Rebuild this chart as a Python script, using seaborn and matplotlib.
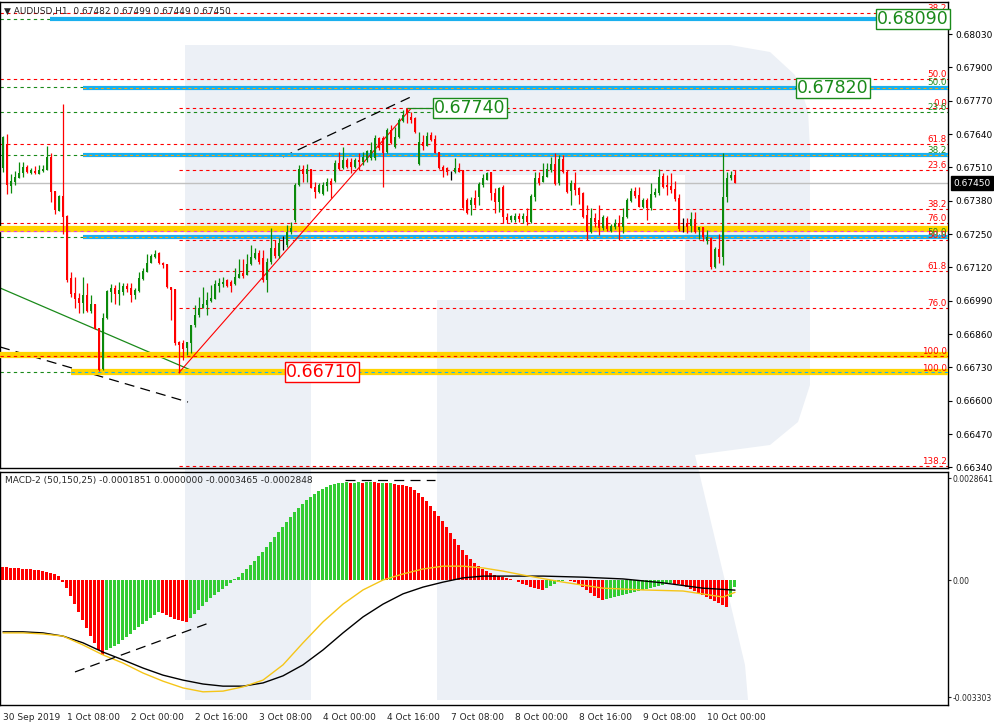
import matplotlib
matplotlib.use("Agg")
import matplotlib.pyplot as plt
import matplotlib.patches as mpatches
import seaborn as sns
import numpy as np

# ---- candles (prices in points, 1 point = 0.00001) ----
opens = [67508, 67601, 67438, 67453, 67469, 67488, 67512, 67488, 67496, 67484, 67496, 67500, 67551, 67418, 67340, 67399,
         67321, 67079, 67020, 67001, 66981, 67013, 66950, 66977, 66884, 66724, 66923, 67024, 67040, 67016, 67024, 67048,
         67040, 67013, 67028, 67075, 67102, 67137, 67161, 67176, 67137, 67133, 67044, 67036, 66829, 66825, 66806, 66825,
         66896, 66935, 66962, 66974, 66989, 66997, 67048, 67055, 67071, 67063, 67055, 67079, 67098, 67091, 67133, 67157,
         67176, 67157, 67071, 67141, 67196, 67165, 67223, 67208, 67258, 67305, 67442, 67504, 67484, 67504, 67434, 67414,
         67406, 67438, 67457, 67457, 67527, 67508, 67539, 67531, 67512, 67539, 67531, 67539, 67547, 67547, 67625, 67625,
         67570, 67656, 67590, 67629, 67691, 67738, 67707, 67703, 67523, 67609, 67594, 67637, 67621, 67570, 67512, 67508,
         67496, 67492, 67508, 67500, 67383, 67364, 67391, 67395, 67442, 67461, 67492, 67410, 67375, 67434, 67317, 67305,
         67305, 67321, 67309, 67321, 67297, 67395, 67469, 67453, 67473, 67500, 67523, 67449, 67543, 67492, 67418, 67449,
         67430, 67410, 67325, 67258, 67313, 67305, 67274, 67313, 67262, 67278, 67293, 67278, 67317, 67379, 67418, 67403,
         67356, 67383, 67352, 67403, 67410, 67477, 67442, 67438, 67426, 67391, 67286, 67293, 67282, 67309, 67266, 67278,
         67223, 67235, 67122, 67192, 67161, 67395, 67469, 67482]
highs = [67633, 67640, 67484, 67496, 67531, 67531, 67520, 67508, 67516, 67520, 67520, 67594, 67566, 67418, 67403, 67757,
         67325, 67102, 67083, 67020, 67083, 67059, 67013, 66977, 66884, 66942, 67032, 67055, 67052, 67063, 67059, 67059,
         67059, 67040, 67102, 67118, 67172, 67172, 67188, 67180, 67141, 67133, 67044, 67036, 66833, 66837, 66829, 66896,
         66974, 67005, 67044, 67024, 67052, 67071, 67079, 67083, 67075, 67071, 67118, 67153, 67153, 67172, 67208, 67196,
         67188, 67188, 67157, 67274, 67227, 67235, 67243, 67286, 67297, 67449, 67520, 67520, 67523, 67504, 67453, 67449,
         67453, 67469, 67469, 67539, 67570, 67590, 67547, 67547, 67547, 67566, 67570, 67578, 67609, 67637, 67629, 67633,
         67664, 67676, 67668, 67703, 67734, 67740, 67726, 67707, 67648, 67637, 67648, 67648, 67637, 67570, 67520, 67512,
         67496, 67547, 67527, 67500, 67391, 67395, 67422, 67453, 67484, 67492, 67492, 67430, 67434, 67442, 67332, 67325,
         67332, 67332, 67332, 67352, 67406, 67492, 67492, 67527, 67527, 67551, 67566, 67558, 67558, 67500, 67461, 67492,
         67434, 67414, 67364, 67352, 67332, 67364, 67325, 67321, 67289, 67309, 67325, 67352, 67391, 67430, 67434, 67434,
         67391, 67391, 67449, 67430, 67504, 67488, 67481, 67488, 67457, 67406, 67313, 67313, 67336, 67336, 67278, 67278,
         67266, 67239, 67200, 67250, 67566, 67492, 67496, 67499]
lows = [67492, 67406, 67410, 67442, 67469, 67473, 67488, 67484, 67484, 67484, 67492, 67500, 67375, 67328, 67340, 67250,
        67063, 67005, 66962, 66942, 66942, 66946, 66942, 66880, 66716, 66720, 66919, 66985, 66977, 66974, 67013, 67024,
        66985, 66997, 67024, 67071, 67102, 67137, 67157, 67133, 67118, 67040, 66915, 66818, 66710, 66759, 66778, 66786,
        66888, 66927, 66962, 66935, 66985, 66997, 67024, 67044, 67044, 67024, 67052, 67079, 67079, 67091, 67130, 67153,
        67133, 67063, 67024, 67133, 67157, 67157, 67188, 67200, 67250, 67297, 67438, 67453, 67453, 67430, 67391, 67410,
        67403, 67418, 67391, 67453, 67500, 67504, 67508, 67488, 67508, 67500, 67520, 67531, 67539, 67539, 67578, 67434,
        67566, 67601, 67586, 67625, 67687, 67683, 67683, 67644, 67520, 67578, 67594, 67613, 67566, 67504, 67473, 67481,
        67461, 67488, 67492, 67344, 67328, 67325, 67352, 67364, 67434, 67461, 67383, 67332, 67336, 67293, 67293, 67297,
        67297, 67297, 67293, 67286, 67293, 67379, 67442, 67453, 67473, 67492, 67442, 67442, 67488, 67410, 67364, 67403,
        67367, 67313, 67227, 67254, 67278, 67247, 67266, 67262, 67258, 67270, 67227, 67254, 67313, 67375, 67391, 67356,
        67352, 67305, 67344, 67395, 67403, 67430, 67403, 67410, 67379, 67262, 67258, 67254, 67258, 67254, 67231, 67223,
        67211, 67114, 67118, 67137, 67130, 67375, 67461, 67449]
closes = [67629, 67442, 67457, 67473, 67488, 67512, 67492, 67500, 67488, 67500, 67504, 67551, 67414, 67344, 67399, 67317,
          67071, 67016, 66997, 66981, 67013, 66950, 66977, 66880, 66720, 66923, 67028, 67040, 67016, 67032, 67048, 67036,
          67013, 67032, 67079, 67106, 67137, 67165, 67172, 67137, 67130, 67044, 67032, 66825, 66818, 66802, 66829, 66896,
          66935, 66962, 66977, 66993, 67001, 67055, 67059, 67063, 67048, 67048, 67083, 67094, 67087, 67133, 67161, 67176,
          67141, 67071, 67141, 67196, 67165, 67215, 67223, 67258, 67274, 67442, 67504, 67484, 67504, 67430, 67414, 67442,
          67442, 67453, 67442, 67527, 67504, 67539, 67512, 67512, 67539, 67531, 67551, 67574, 67578, 67625, 67586, 67566,
          67656, 67605, 67629, 67695, 67715, 67722, 67695, 67648, 67609, 67594, 67633, 67617, 67566, 67508, 67500, 67492,
          67496, 67508, 67492, 67352, 67332, 67383, 67364, 67445, 67469, 67488, 67410, 67375, 67430, 67317, 67305, 67321,
          67321, 67309, 67321, 67297, 67399, 67469, 67449, 67477, 67504, 67523, 67445, 67543, 67492, 67414, 67449, 67422,
          67403, 67317, 67258, 67313, 67297, 67274, 67317, 67270, 67282, 67293, 67278, 67317, 67383, 67418, 67399, 67356,
          67383, 67352, 67406, 67414, 67473, 67434, 67434, 67422, 67387, 67270, 67286, 67278, 67309, 67258, 67278, 67239,
          67239, 67122, 67192, 67161, 67395, 67469, 67481, 67450]

# ---- MACD-2 (values in units of 1e-4) ----
macd_hist = [3.7, 3.6, 3.5, 3.4, 3.3, 3.2, 3.1, 3.0, 2.9, 2.7, 2.5, 2.3, 2.0, 1.6, 1.0,
             -0.6, -2.3, -4.5, -6.8, -9.0, -11.3, -13.5, -15.8, -17.7, -19.7, -21.1,
             -19.7, -19.2, -18.6, -18.0, -16.9, -16.1, -15.2, -14.1, -13.2, -12.4, -11.5, -10.7, -9.9, -9.0,
             -9.3, -9.9, -10.4, -11.0, -11.3, -11.5, -11.8,
             -10.7, -9.6, -8.5, -7.3, -6.2, -5.1, -4.2, -3.4, -2.5, -1.7, -0.8, 0.3,
             0.8, 2.0, 3.1, 4.2, 5.4, 6.8, 7.9, 9.3, 10.7, 12.1, 13.5, 14.9, 16.3, 17.7, 19.2, 20.3, 21.4, 22.5,
             23.4, 24.2, 25.1, 25.6, 26.2, 26.8, 27.0,
             27.2, 27.4, 27.5, 27.3, 27.4, 27.6, 27.4, 27.5, 27.7, 27.5, 27.3, 27.4, 27.2, 27.3, 27.1, 26.9, 26.7, 26.5,
             26.2, 25.4, 24.5, 23.4, 22.3, 20.8, 19.4, 18.0, 16.6, 14.9, 13.2, 11.5, 9.9, 8.5, 7.0, 5.9, 4.8, 3.9,
             3.1, 2.5, 2.0, 1.4, 1.1, 0.8, 0.6, 0.3, 0.0,
             -0.6, -1.1, -1.4, -2.0, -2.3, -2.5, -2.8,
             -2.3, -1.7, -1.1, -0.6, -0.3, 0.0,
             -0.3, -0.6, -1.1, -2.0, -2.8, -3.7, -4.5, -5.1, -5.6,
             -5.4, -5.1, -4.8, -4.5, -4.2, -3.9, -3.7, -3.4, -3.1, -2.8, -2.5, -2.3,
             -2.0, -1.7, -1.4, -1.1, -0.8, -1.0, -1.1, -1.4,
             -2.0, -2.5, -3.1, -3.7, -4.2, -4.8, -5.4, -5.9, -6.5, -7.0, -7.6,
             -4.8, -1.85]
main_idx = [0, 5, 10, 15, 20, 25, 30, 35, 40, 45, 50, 55, 60, 65, 70, 75, 80, 85, 90, 95, 100, 105, 110, 115,
            120, 125, 135, 145, 155, 165, 175, 183]
main_line = [-14.6, -14.6, -14.9, -15.8, -17.7, -20.3, -22.5, -24.8, -26.8, -28.2, -29.3, -29.9, -29.9, -29.0,
             -27.0, -23.9, -19.7, -14.9, -10.4, -6.8, -3.9, -2.0, -0.6, 0.6, 1.1, 1.1, 1.1, 0.8, 0.3, -0.8, -2.3, -2.85]
signal_idx = [0, 5, 10, 15, 20, 25, 30, 35, 40, 45, 50, 55, 60, 65, 70, 75, 80, 85, 90, 95, 100, 105, 110, 115,
              120, 125, 130, 140, 150, 160, 170, 180, 183]
signal_line = [-14.9, -14.9, -15.2, -15.8, -18.3, -21.1, -23.4, -26.2, -28.5, -30.4, -31.5, -31.3, -30.1, -28.2,
               -23.9, -17.7, -11.8, -6.8, -2.8, 0.0, 1.7, 3.1, 3.9, 3.9, 3.4, 2.5, 1.4, -0.6, -2.3, -2.8, -3.1,
               -4.8, -3.47]

# ---- axis labels ----
time_tick_bars = [0, 16, 32, 48, 64, 80, 96, 112, 128, 144, 160, 176]
time_labels = ["30 Sep 2019", "1 Oct 08:00", "2 Oct 00:00", "2 Oct 16:00", "3 Oct 08:00", "4 Oct 00:00",
               "4 Oct 16:00", "7 Oct 08:00", "8 Oct 00:00", "8 Oct 16:00", "9 Oct 08:00", "10 Oct 00:00"]
price_ticks = [0.66340, 0.66470, 0.66600, 0.66730, 0.66860, 0.66990, 0.67120, 0.67250, 0.67380, 0.67510,
               0.67640, 0.67770, 0.67900, 0.68030]
macd_ticks = [0.0028641, 0.0, -0.003303]
macd_tick_labels = ["0.0028641", "0.00", "-0.003303"]

# ---- levels drawn on the price chart ----
# fib set starting at left edge (red)
fib_a_prices = [0.68112, 0.67855, 0.67601, 0.67293, 0.66775]
fib_a_labels = ["38.2", "50.0", "61.8", "76.0", "100.0"]
# fib set from the 0.66710 low to the 0.67740 high (red)
fib_b_prices = [0.67740, 0.67500, 0.67348, 0.67227, 0.67106, 0.66962, 0.66710, 0.66346]
fib_b_labels = ["0.0", "23.6", "38.2", "50.0", "61.8", "76.0", "100.0", "138.2"]
# green set
fib_g_prices = [0.68089, 0.67824, 0.67726, 0.67558, 0.67239, 0.66712]
fib_g_labels = ["", "50.0", "23.6", "38.2", "50.0", ""]
support_cyan = [0.67820, 0.67558, 0.67239]
support_yellow = [0.67270, 0.66778]
target_prices = [0.68090, 0.67820, 0.67740, 0.66710]
last_price = 0.67450

W, H = 995, 725
sns.set_style("white")
plt.rcParams['font.family'] = ['DejaVu Sans']


def P(x, y):
    return (x / W, 1 - y / H)


fig = plt.figure(figsize=(W / 100, H / 100), dpi=100)
fig.patch.set_facecolor("white")

# watermark "R" behind both panes
wm = "#ecf0f6"
fig.patches.append(mpatches.Polygon([P(185, 45), P(311, 45), P(311, 700), P(185, 700)],
                                    closed=True, transform=fig.transFigure, fc=wm, ec="none", zorder=-3))
outer = [(311, 45), (730, 45), (770, 52), (795, 75), (808, 110), (810, 150), (810, 385), (798, 422), (770, 445),
         (695, 455), (745, 665), (748, 700), (437, 700), (437, 300), (311, 300)]
fig.patches.append(mpatches.Polygon([P(*p) for p in outer], closed=True, transform=fig.transFigure,
                                    fc=wm, ec="none", zorder=-3))
fig.patches.append(mpatches.Polygon([P(311, 175), P(685, 175), P(685, 300), P(311, 300)], closed=True,
                                    transform=fig.transFigure, fc="white", ec="none", zorder=-2))

ax = fig.add_axes([0, 1 - 468 / H, 948 / W, 466 / H])
axm = fig.add_axes([0, 1 - 705 / H, 948 / W, 233 / H])
for a in (ax, axm):
    a.set_facecolor("none")
    for s in a.spines.values():
        s.set_color("black")
        s.set_linewidth(1)

x0, x1 = -0.75, 236.25
n = len(closes)
idx = np.arange(n)
o = np.array(opens) / 1e5
h = np.array(highs) / 1e5
l = np.array(lows) / 1e5
c = np.array(closes) / 1e5

GREEN = "#0b8a0b"
RED = "#ff0000"

# horizontal levels
ax.axhline(last_price, color="#c0c0c0", lw=1, zorder=1)
for p in fib_a_prices:
    ax.plot([x0, x1], [p, p], color=RED, lw=0.8, ls=(0, (3, 3)), zorder=2)
for p in fib_b_prices:
    ax.plot([44, x1], [p, p], color=RED, lw=0.8, ls=(0, (3, 3)), zorder=2)
for p in fib_g_prices:
    ax.plot([x0, x1], [p, p], color="#1a8a1a", lw=0.8, ls=(0, (3, 3)), zorder=2)

ax.plot([11.75, 218.5], [target_prices[0]] * 2, color="#1ab0ee", lw=3, solid_capstyle="butt", zorder=3)
for p in support_cyan:
    ax.plot([20, x1], [p, p], color="#1ab0ee", lw=3, solid_capstyle="butt", zorder=3)
    ax.plot([20, x1], [p, p], color="#ffa500", lw=0.7, ls=(0, (3, 3)), zorder=3)
ax.plot([x0, x1], [support_yellow[0]] * 2, color="#ffd400", lw=4.5, solid_capstyle="butt", zorder=3)
ax.plot([x0, x1], [0.67262] * 2, color="#e040e0", lw=0.8, ls=(0, (3, 3)), zorder=3)
ax.plot([x0, x1], [support_yellow[1]] * 2, color="#ffd400", lw=4.5, solid_capstyle="butt", zorder=3)
ax.plot([x0, x1], [0.66775] * 2, color=RED, lw=0.8, ls=(0, (3, 3)), zorder=3)
ax.plot([17, x1], [0.66712] * 2, color="#ffd400", lw=4.5, solid_capstyle="butt", zorder=3)
ax.plot([17, x1], [0.66712] * 2, color="#1ab0ee", lw=0.8, ls=(0, (3, 3)), zorder=3)

# level labels at the right edge
for p, t in zip(fib_a_prices, fib_a_labels):
    ax.text(x1 - 0.3, p, t, color=RED, fontsize=6.3, ha="right", va="bottom", zorder=6)
for p, t in zip(fib_b_prices, fib_b_labels):
    ax.text(x1 - 0.3, p, t, color=RED, fontsize=6.3, ha="right", va="bottom", zorder=6)
for p, t in zip(fib_g_prices, fib_g_labels):
    ax.text(x1 - 0.3, p, t, color="#1a8a1a", fontsize=6.3, ha="right", va="bottom", zorder=6)

# trend lines
ax.plot([-0.75, 47.5], [0.67040, 0.66716], color="#1a8a1a", lw=0.9, zorder=2)
ax.plot([-0.75, 46.25], [0.66810, 0.66595], color="black", lw=0.9, ls=(0, (8, 5)), zorder=2)
ax.plot([70, 102.5], [0.67551, 0.67789], color="black", lw=0.9, ls=(0, (8, 5)), zorder=2)
ax.plot([44, 102], [0.66710, 0.67740], color=RED, lw=0.8, zorder=4)

# candles
up = c > o
down = c < o
col = np.where(up, GREEN, np.where(down, RED, "black"))
ax.vlines(idx, l, h, colors=col, lw=0.9, zorder=5)
body = np.maximum(np.abs(c - o), 0.000012)
ax.bar(idx, body, bottom=np.minimum(o, c), width=0.72, color=col, linewidth=0, zorder=5)

ax.set_xlim(x0, x1)
ax.set_ylim(0.663378, 0.681552)
ax.set_xticks([])
ax.yaxis.tick_right()
ax.set_yticks(price_ticks)
ax.set_yticklabels([f"{v:.5f}" for v in price_ticks])
ax.tick_params(axis="y", direction="out", length=3, width=0.8, labelsize=6.5, pad=2, colors="black")

# MACD pane
hist = np.array(macd_hist) * 1e-4
prev = np.concatenate([[hist[0] + 1e-9], hist[:-1]])
hcol = np.where(hist > prev, "#33cc33", RED)
axm.bar(idx, hist, width=0.75, color=hcol, linewidth=0, zorder=2)
sns.lineplot(x=main_idx, y=np.array(main_line) * 1e-4, ax=axm, color="black", lw=1, zorder=3)
sns.lineplot(x=signal_idx, y=np.array(signal_line) * 1e-4, ax=axm, color="#f5c518", lw=1, zorder=3)
axm.plot([18, 52.25], [-0.00259, -0.00118], color="black", lw=0.9, ls=(0, (8, 5)), zorder=4)
axm.plot([85.5, 108], [0.00282, 0.00282], color="black", lw=0.9, ls=(0, (8, 5)), zorder=4)

axm.set_xlim(x0, x1)
axm.set_ylim(-0.0035211, 0.0030423)
axm.yaxis.tick_right()
axm.set_yticks(macd_ticks)
axm.set_yticklabels(macd_tick_labels)
axm.set_xticks(time_tick_bars)
axm.set_xticklabels(time_labels, ha="left")
axm.tick_params(axis="y", direction="out", length=2.5, width=0.8, labelsize=5.5, pad=1)
axm.tick_params(axis="x", direction="out", length=4, width=0.8, labelsize=6.5, pad=2)
axm.set_xlabel("")
axm.set_ylabel("")

# headers
fig.text(*P(4, 11), "\u25bc AUDUSD,H1  0.67482 0.67499 0.67449 0.67450", fontsize=6.5, va="center", ha="left")
fig.text(*P(5, 481), "MACD-2 (50,150,25) -0.0001851 0.0000000 -0.0003465 -0.0002848",
         fontsize=6.5, va="center", ha="left")


# price target boxes
def box(xp, yp, txt, color, fs=12.5):
    fig.text(*P(xp, yp), txt, color=color, fontsize=fs, ha="center", va="center",
             bbox=dict(boxstyle="square,pad=0.08", fc="white", ec=color, lw=1))


box(913, 19, "0.68090", "#1a8a1a")
box(833, 88, "0.67820", "#1a8a1a")
box(470, 108, "0.67740", "#1a8a1a")
box(322, 372, "0.66710", RED)
ax.plot([101, 107.5], [target_prices[2]] * 2, color="#1a8a1a", lw=0.9, zorder=4)
ax.plot([198, 199.5], [target_prices[1]] * 2, color="#1a8a1a", lw=0.9, zorder=4)

# last price tag
fig.text(*P(972, 183), f"{last_price:.5f}", color="white", fontsize=6.5, ha="center", va="center",
         bbox=dict(boxstyle="square,pad=0.25", fc="black", ec="black"))

fig.savefig("out.png", dpi=100)
